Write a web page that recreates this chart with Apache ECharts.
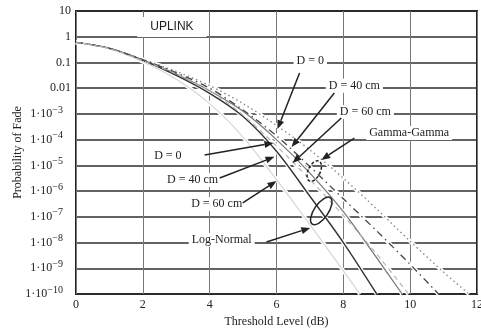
<!DOCTYPE html>
<html>
<head>
<meta charset="utf-8">
<script src="https://cdn.jsdelivr.net/npm/echarts@6/dist/echarts.min.js"></script>
<style>
  html, body { margin: 0; padding: 0; background: #fff; }
  #chart { width: 481px; height: 333px; }
</style>
</head>
<body>
<div id="chart"></div>
<script>
// Threshold levels (dB) and fade-probability exponents (log10 P) for each curve
const lnD0X   = [0, 1, 2, 3, 4, 5, 6, 7, 8, 9, 9.76];
const lnD0Exp = [-0.22, -0.45, -0.9, -1.45, -2.1, -2.9, -4.0, -5.3, -6.8, -8.6, -10];

const lnD40X   = [0, 1, 2, 3, 4, 5, 6, 7, 8, 9];
const lnD40Exp = [-0.22, -0.45, -0.92, -1.5, -2.2, -3.1, -4.45, -6.2, -8.0, -10];

const lnD60X   = [0, 1, 2, 3, 4, 5, 6, 7, 8, 8.5];
const lnD60Exp = [-0.22, -0.47, -0.97, -1.65, -2.6, -3.9, -5.55, -7.3, -9.1, -10];

const ggD0X   = [0, 1, 2, 3, 4, 5, 6, 7, 8, 9, 10, 11, 11.76];
const ggD0Exp = [-0.22, -0.44, -0.88, -1.35, -1.9, -2.6, -3.45, -4.4, -5.5, -6.7, -7.95, -9.15, -10];

const ggD40X   = [0, 1, 2, 3, 4, 5, 6, 7, 8, 9, 10, 10.85];
const ggD40Exp = [-0.22, -0.45, -0.9, -1.4, -2.0, -2.85, -3.85, -5.05, -6.3, -7.55, -8.85, -10];

const ggD60X   = [0, 1, 2, 3, 4, 5, 6, 7, 8, 9, 9.95];
const ggD60Exp = [-0.22, -0.46, -0.93, -1.45, -2.1, -3.05, -4.25, -5.55, -6.95, -8.45, -10];

// Axis ticks
const xTicks = [0, 2, 4, 6, 8, 10, 12];
const yMinExp = -10;
const yMaxExp = 1;
const yPlainLabels = ['0.01', '0.1', '1', '10'];

// Annotation texts and their anchor points (threshold, log10 P)
const noteText = ['UPLINK', 'D = 0', 'D = 40 cm', 'D = 60 cm', 'Gamma-Gamma',
                  'D = 0', 'D = 40 cm', 'D = 60 cm', 'Log-Normal'];
const noteX   = [2.87, 7.01, 8.33, 8.66, 9.97, 2.75, 3.49, 4.21, 4.36];
const noteExp = [0.38, -0.94, -1.91, -2.93, -3.74, -4.64, -5.57, -6.5, -7.9];

// Pointer arrows: tail -> head
const arrowFromX   = [6.69, 7.73, 7.94, 8.33, 3.85, 4.30, 4.99, 5.70];
const arrowFromExp = [-1.41, -2.19, -3.16, -3.94, -4.6, -5.49, -6.46, -7.98];
const arrowToX     = [6.03, 6.45, 6.48, 7.34, 5.91, 5.94, 6.0, 7.01];
const arrowToExp   = [-3.59, -4.29, -4.91, -4.79, -4.13, -4.67, -5.61, -7.43];

// Grouping ellipses (Gamma-Gamma, Log-Normal)
const ringX   = [7.13, 7.34];
const ringExp = [-5.22, -6.77];

const p10 = e => Math.pow(10, e);
const SERIF = '"Liberation Serif", "DejaVu Serif", serif';

const curves = [
  { x: lnD0X,  e: lnD0Exp,  color: '#7a7a7a', type: 'solid',        width: 1.3 },
  { x: lnD40X, e: lnD40Exp, color: '#333333', type: 'solid',        width: 1.4 },
  { x: lnD60X, e: lnD60Exp, color: '#d6d6d6', type: 'solid',        width: 1.2 },
  { x: ggD0X,  e: ggD0Exp,  color: '#8a8a8a', type: [1.5, 3],       width: 1.4 },
  { x: ggD40X, e: ggD40Exp, color: '#444444', type: [7, 4, 1.5, 4], width: 1.3 },
  { x: ggD60X, e: ggD60Exp, color: '#b0b0b0', type: [5, 4],         width: 1.1 }
];

const series = [];
curves.forEach(c => {
  const data = c.x.map((x, i) => [x, p10(c.e[i])]);
  // white halo that breaks the grid lines under each curve
  series.push({
    type: 'line', data, smooth: 0.3, showSymbol: false, silent: true, z: 2,
    lineStyle: { color: '#ffffff', width: 4 }
  });
  series.push({
    type: 'line', data, smooth: 0.3, showSymbol: false, silent: true, z: 3,
    lineStyle: { color: c.color, width: c.width, type: c.type }
  });
});

// Ellipses
const ringStyle = [
  { rx: 6, ry: 11, rot: -0.45, dash: [3, 2] },
  { rx: 7, ry: 16, rot: -0.6,  dash: null }
];
series.push({
  type: 'custom', z: 5, silent: true,
  data: ringX.map((x, i) => [x, p10(ringExp[i])]),
  renderItem: (params, api) => {
    const c = api.coord([api.value(0), api.value(1)]);
    const s = ringStyle[params.dataIndex];
    return {
      type: 'ellipse', x: c[0], y: c[1], rotation: s.rot,
      shape: { cx: 0, cy: 0, rx: s.rx, ry: s.ry },
      style: { fill: 'none', stroke: '#222', lineWidth: 1.5, lineDash: s.dash }
    };
  }
});

// Text annotations
series.push({
  type: 'custom', z: 6, silent: true,
  data: noteX.map((x, i) => [x, p10(noteExp[i])]),
  renderItem: (params, api) => {
    const c = api.coord([api.value(0), api.value(1)]);
    const i = params.dataIndex;
    const isTitle = i === 0;
    return {
      type: 'text', x: c[0], y: c[1],
      style: {
        text: noteText[i],
        fill: '#222',
        font: isTitle ? '12px "Liberation Sans", Arial, sans-serif' : '12px ' + SERIF,
        align: 'center', verticalAlign: 'middle',
        backgroundColor: '#fff',
        padding: isTitle ? [2, 13, 6, 13] : [1, 3, 1, 3]
      }
    };
  }
});

// Arrows
series.push({
  type: 'custom', z: 7, silent: true,
  encode: { x: [0, 2], y: [1, 3] },
  data: arrowFromX.map((x, i) => [x, p10(arrowFromExp[i]), arrowToX[i], p10(arrowToExp[i])]),
  renderItem: (params, api) => {
    const a = api.coord([api.value(0), api.value(1)]);
    const b = api.coord([api.value(2), api.value(3)]);
    const dx = b[0] - a[0], dy = b[1] - a[1];
    const len = Math.sqrt(dx * dx + dy * dy);
    const ux = dx / len, uy = dy / len;
    const hl = 9, hw = 3.5;
    const bx = b[0] - ux * hl, by = b[1] - uy * hl;
    return {
      type: 'group',
      children: [
        { type: 'line', shape: { x1: a[0], y1: a[1], x2: bx, y2: by },
          style: { stroke: '#222', lineWidth: 1.5 } },
        { type: 'polygon',
          shape: { points: [[b[0], b[1]], [bx - uy * hw, by + ux * hw], [bx + uy * hw, by - ux * hw]] },
          style: { fill: '#222' } }
      ]
    };
  }
});

const chart = echarts.init(document.getElementById('chart'), null, { renderer: 'canvas' });
chart.setOption({
  animation: false,
  backgroundColor: '#fff',
  grid: {
    left: 76, right: 4, top: 11, bottom: 39,
    containLabel: false, outerBoundsMode: 'none',
    show: true, borderColor: '#222', borderWidth: 2
  },
  xAxis: {
    type: 'value', min: xTicks[0], max: xTicks[xTicks.length - 1], interval: 2,
    name: 'Threshold Level (dB)', nameLocation: 'middle', nameGap: 22,
    nameMoveOverlap: false,
    nameTextStyle: { fontFamily: SERIF, fontSize: 12, color: '#222' },
    axisLine: { show: false }, axisTick: { show: false },
    axisLabel: { fontFamily: SERIF, fontSize: 12, color: '#222', margin: 5 },
    splitLine: { show: true, lineStyle: { color: '#777', width: 1 } }
  },
  yAxis: {
    type: 'log', logBase: 10, min: p10(yMinExp), max: p10(yMaxExp), interval: 1,
    name: 'Probability of Fade', nameLocation: 'middle', nameGap: 52,
    nameMoveOverlap: false,
    nameTextStyle: { fontFamily: SERIF, fontSize: 12, color: '#222' },
    axisLine: { show: false }, axisTick: { show: false },
    axisLabel: {
      fontFamily: SERIF, fontSize: 12, color: '#222', margin: 5,
      formatter: v => {
        const e = Math.round(Math.log10(v));
        if (e >= -2) return yPlainLabels[e + 2];
        return '1·10{s|−' + (-e) + '}';
      },
      rich: { s: { fontFamily: SERIF, fontSize: 10, color: '#222', padding: [0, 8, 8, 0] } }
    },
    splitLine: { show: true, lineStyle: { color: '#2e2e2e', width: 1.7 } }
  },
  series
});
</script>
</body>
</html>
